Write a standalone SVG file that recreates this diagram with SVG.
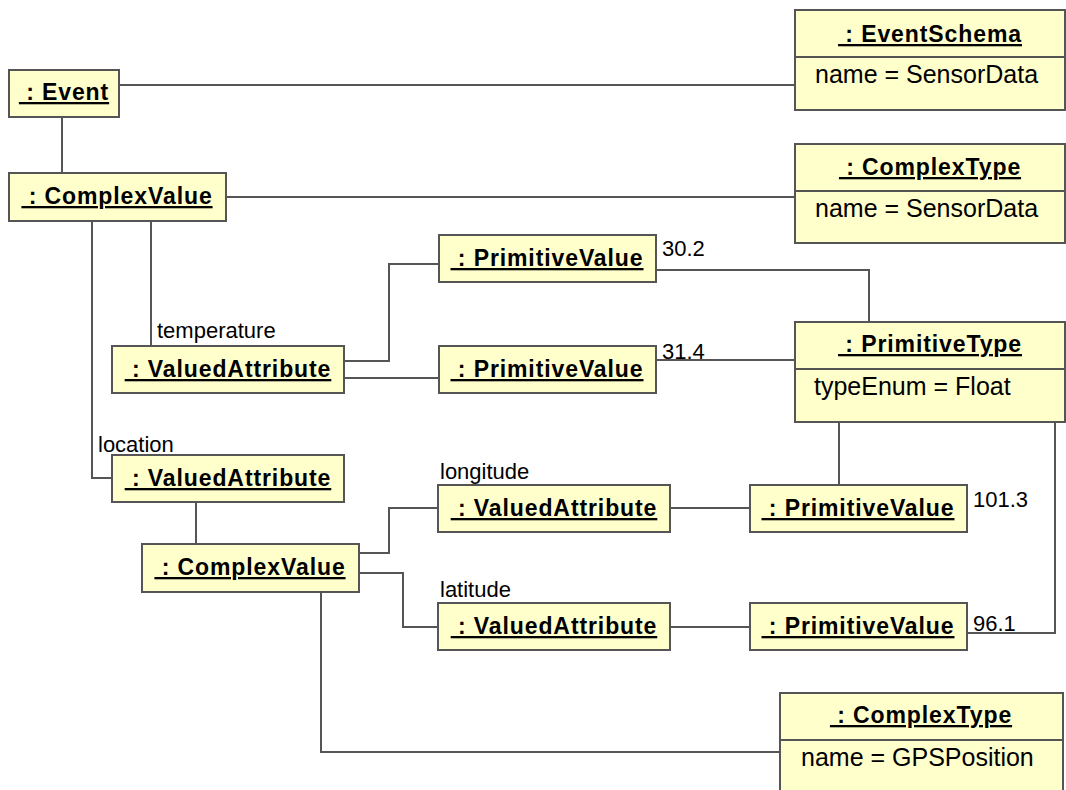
<svg xmlns="http://www.w3.org/2000/svg" width="1066" height="790" viewBox="0 0 1066 790">
<style>
.box{fill:#ffffcc;stroke:#555555;stroke-width:2}
.div{stroke:#555555;stroke-width:2}
.t{font-family:"Liberation Sans",Arial,sans-serif;font-weight:bold;font-size:23px;letter-spacing:0.9px;text-anchor:middle;text-decoration:underline;fill:#000}
.a{font-family:"Liberation Sans",Arial,sans-serif;font-size:25px;fill:#000}
.l{font-family:"Liberation Sans",Arial,sans-serif;font-size:22px;fill:#000}
.c{fill:none;stroke:#555555;stroke-width:2}
</style>
<rect width="1066" height="790" fill="#ffffff"/>
<g id="connectors">
<polyline class="c" points="119,85 795,85"/>
<polyline class="c" points="62,117 62,173"/>
<polyline class="c" points="226,197 795,197"/>
<polyline class="c" points="151,221 151,346"/>
<polyline class="c" points="92,221 92,478 112,478"/>
<polyline class="c" points="344,361 389,361 389,264 439,264"/>
<polyline class="c" points="344,378 439,378"/>
<polyline class="c" points="656,270 869,270 869,322"/>
<polyline class="c" points="656,360 795,360"/>
<polyline class="c" points="839,422 839,485"/>
<polyline class="c" points="1055,422 1055,633 967,633"/>
<polyline class="c" points="196,502 196,544"/>
<polyline class="c" points="359,553 389,553 389,508 438,508"/>
<polyline class="c" points="359,573 403,573 403,627 438,627"/>
<polyline class="c" points="670,508 750,508"/>
<polyline class="c" points="670,627 750,627"/>
<polyline class="c" points="321,592 321,752 780,752"/>
<text class="l" x="157" y="338">temperature</text>
<text class="l" x="98" y="452">location</text>
<text class="l" x="440" y="479">longitude</text>
<text class="l" x="440" y="597">latitude</text>
<text class="l" x="662" y="256">30.2</text>
<text class="l" x="662" y="359">31.4</text>
<text class="l" x="973" y="507">101.3</text>
<text class="l" x="973" y="631">96.1</text>
</g>
<g id="event">
<rect class="box" x="9" y="70" width="110" height="47"/>
<text class="t" x="64" y="100" xml:space="preserve"> : Event</text>
</g>
<g id="eventschema">
<rect class="box" x="795" y="10" width="270" height="100"/>
<line class="div" x1="795" y1="57" x2="1065" y2="57"/>
<text class="t" x="930" y="42" xml:space="preserve"> : EventSchema</text>
<text class="a" x="815" y="83">name = SensorData</text>
</g>
<g id="complexvalue1">
<rect class="box" x="9" y="173" width="217" height="48"/>
<text class="t" x="117" y="204" xml:space="preserve"> : ComplexValue</text>
</g>
<g id="complextype1">
<rect class="box" x="795" y="144" width="270" height="99"/>
<line class="div" x1="795" y1="191" x2="1065" y2="191"/>
<text class="t" x="930" y="175" xml:space="preserve"> : ComplexType</text>
<text class="a" x="815" y="217">name = SensorData</text>
</g>
<g id="primitivevalue1">
<rect class="box" x="439" y="235" width="217" height="47"/>
<text class="t" x="547" y="266" xml:space="preserve"> : PrimitiveValue</text>
</g>
<g id="valuedattribute-temperature">
<rect class="box" x="112" y="346" width="232" height="47"/>
<text class="t" x="228" y="377" xml:space="preserve"> : ValuedAttribute</text>
</g>
<g id="primitivevalue2">
<rect class="box" x="439" y="346" width="217" height="47"/>
<text class="t" x="547" y="377" xml:space="preserve"> : PrimitiveValue</text>
</g>
<g id="primitivetype">
<rect class="box" x="795" y="322" width="270" height="100"/>
<line class="div" x1="795" y1="369" x2="1065" y2="369"/>
<text class="t" x="930" y="352" xml:space="preserve"> : PrimitiveType</text>
<text class="a" x="814" y="395">typeEnum = Float</text>
</g>
<g id="valuedattribute-location">
<rect class="box" x="112" y="455" width="232" height="47"/>
<text class="t" x="228" y="486" xml:space="preserve"> : ValuedAttribute</text>
</g>
<g id="complexvalue2">
<rect class="box" x="142" y="544" width="217" height="48"/>
<text class="t" x="250" y="575" xml:space="preserve"> : ComplexValue</text>
</g>
<g id="valuedattribute-longitude">
<rect class="box" x="438" y="485" width="232" height="47"/>
<text class="t" x="554" y="516" xml:space="preserve"> : ValuedAttribute</text>
</g>
<g id="valuedattribute-latitude">
<rect class="box" x="438" y="603" width="232" height="47"/>
<text class="t" x="554" y="634" xml:space="preserve"> : ValuedAttribute</text>
</g>
<g id="primitivevalue3">
<rect class="box" x="750" y="485" width="217" height="47"/>
<text class="t" x="858" y="516" xml:space="preserve"> : PrimitiveValue</text>
</g>
<g id="primitivevalue4">
<rect class="box" x="750" y="603" width="217" height="47"/>
<text class="t" x="858" y="634" xml:space="preserve"> : PrimitiveValue</text>
</g>
<g id="complextype2">
<rect class="box" x="780" y="693" width="283" height="110"/>
<line class="div" x1="780" y1="740" x2="1063" y2="740"/>
<text class="t" x="921" y="723" xml:space="preserve"> : ComplexType</text>
<text class="a" x="801" y="766">name = GPSPosition</text>
</g>
</svg>
